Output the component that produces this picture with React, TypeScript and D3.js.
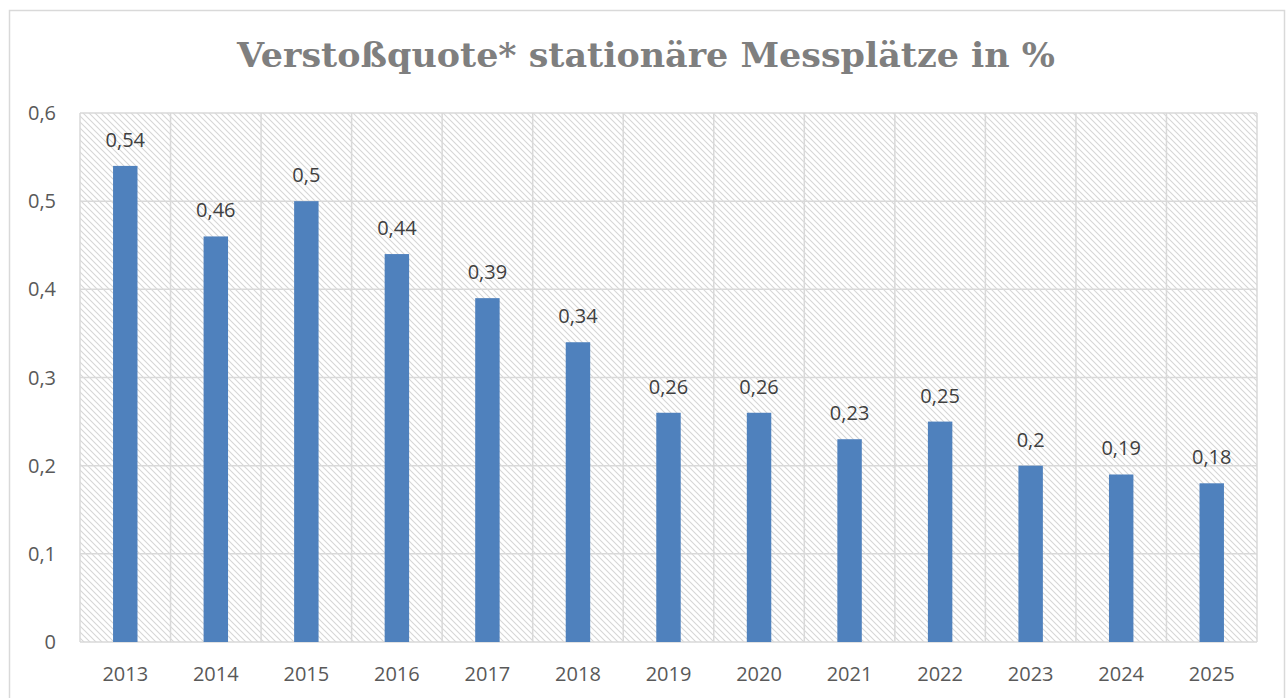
import React from 'react';
import * as d3 from 'd3';

// Daten
const years = ['2013', '2014', '2015', '2016', '2017', '2018', '2019', '2020', '2021', '2022', '2023', '2024', '2025'];
const quote = [0.54, 0.46, 0.5, 0.44, 0.39, 0.34, 0.26, 0.26, 0.23, 0.25, 0.2, 0.19, 0.18];
const yTicks = [0, 0.1, 0.2, 0.3, 0.4, 0.5, 0.6];
const title = 'Verstoßquote* stationäre Messplätze in %';

const W = 1287;
const H = 698;
const plot = { left: 80, top: 113, right: 1257, bottom: 642 };

const fmt = (v: number) => String(+v.toFixed(2)).replace('.', ',');

export default function App() {
  const x = d3.scaleBand().domain(years).range([plot.left, plot.right]).paddingInner(0).paddingOuter(0);
  const y = d3.scaleLinear().domain([0, 0.6]).range([plot.bottom, plot.top]);
  const barW = x.bandwidth() * 0.27;
  const font = '"Open Sans", "Noto Sans", sans-serif';

  return (
    <svg width={W} height={H} style={{ position: 'absolute', left: 0, top: 0, background: '#fff' }}>
      <defs>
        <pattern id="hatch" width="6" height="6" patternUnits="userSpaceOnUse">
          <path d="M-1,-1 L7,7 M-1,5 L1,7 M5,-1 L7,1" stroke="#d6d6d6" strokeWidth="1.1" />
        </pattern>
      </defs>
      {/* Rahmen */}
      <rect x={9.5} y={10.5} width={1275} height={700} fill="#fff" stroke="#d9d9d9" strokeWidth={1.5} />

      <text x={646} y={67} textAnchor="middle" fontFamily='"DejaVu Serif", serif' fontWeight="bold"
        fontSize={33} fill="#7f7f7f" textLength={818} lengthAdjust="spacingAndGlyphs">{title}</text>

      {/* Plotfläche */}
      <rect x={plot.left} y={plot.top} width={plot.right - plot.left} height={plot.bottom - plot.top} fill="url(#hatch)" />
      {yTicks.map(t => (
        <line key={'h' + t} x1={plot.left} x2={plot.right} y1={y(t)} y2={y(t)} stroke="#d9d9d9" strokeWidth={1.5} />
      ))}
      {years.map(yr => (
        <line key={'v' + yr} x1={x(yr)!} x2={x(yr)!} y1={plot.top} y2={plot.bottom} stroke="#d9d9d9" strokeWidth={1.5} />
      ))}
      <line x1={plot.right} x2={plot.right} y1={plot.top} y2={plot.bottom} stroke="#d9d9d9" strokeWidth={1.5} />

      {/* Balken */}
      {quote.map((v, i) => {
        const cx = x(years[i])! + x.bandwidth() / 2;
        return (
          <g key={years[i]}>
            <rect x={cx - barW / 2} y={y(v)} width={barW} height={y(0) - y(v)} fill="#4f81bd" />
            <text x={cx} y={y(v) - 19} textAnchor="middle" fontFamily={font} fontSize={20} fill="#404040">{fmt(v)}</text>
          </g>
        );
      })}

      {/* Achsen */}
      {yTicks.map(t => (
        <text key={'yl' + t} x={56} y={y(t) + 7} textAnchor="end" fontFamily={font} fontSize={20} fill="#595959">{fmt(t)}</text>
      ))}
      {years.map(yr => (
        <text key={'xl' + yr} x={x(yr)! + x.bandwidth() / 2} y={681} textAnchor="middle" fontFamily={font} fontSize={20} fill="#595959">{yr}</text>
      ))}
    </svg>
  );
}
